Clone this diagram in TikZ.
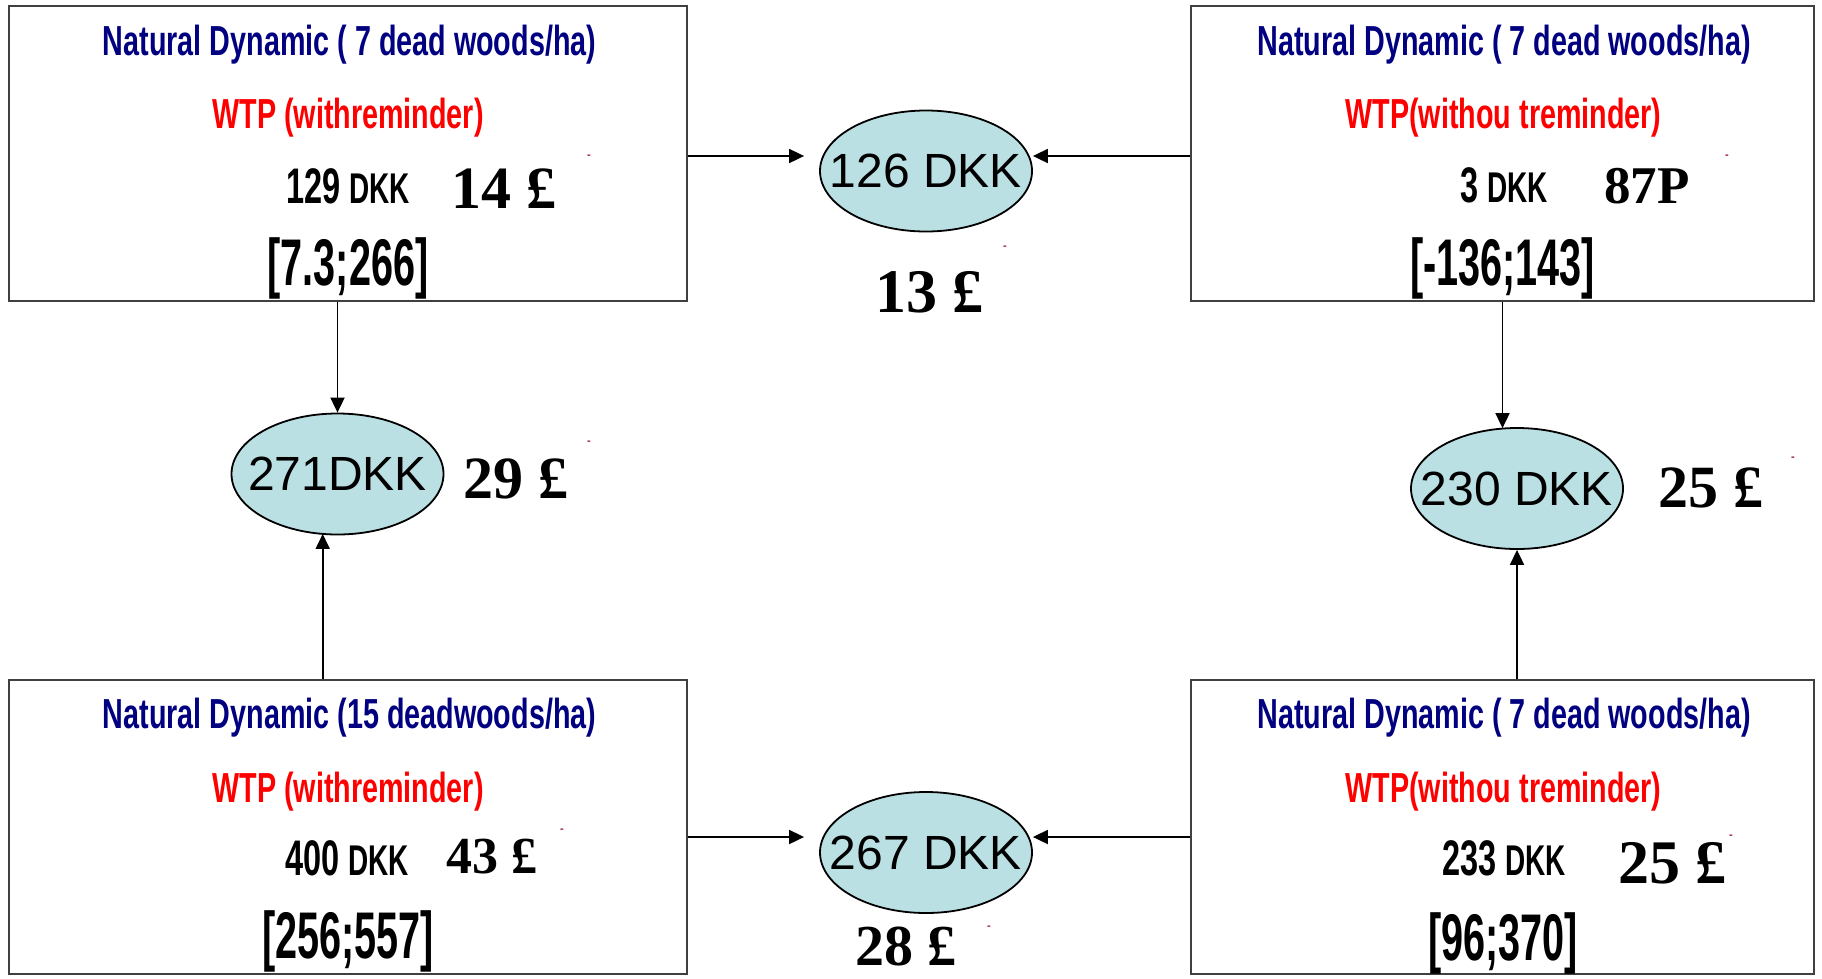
\documentclass[tikz,border=0pt]{standalone}
\usepackage{fontspec}
\setmainfont{Liberation Sans}
\newfontfamily\condfont{Liberation Sans}[FakeStretch=0.684]
\newfontfamily\amtfont{Liberation Sans}[FakeStretch=0.65]
\newfontfamily\rangefont{Liberation Sans}[FakeStretch=0.6]
\newfontfamily\gbpfont{Liberation Serif}
\usetikzlibrary{arrows.meta,shapes.geometric}
\definecolor{navy}{RGB}{0,0,128}
\definecolor{wtpred}{RGB}{255,0,0}
\definecolor{ovalfill}{RGB}{187,224,227}
\definecolor{speckcol}{RGB}{150,20,40}
\newcommand\fs[1]{\fontsize{#1}{#1}\selectfont}
\newcommand\ovaltext[1]{\makebox[0pt][c]{#1}}
\newcommand\unitdkk{{\fs{43}DKK}}
\tikzset{
  panel/.style={draw=black!75, line width=1.6pt, inner sep=0},
  ovalnode/.style={ellipse, draw=black, line width=1.8pt, fill=ovalfill,
    minimum width=212pt, minimum height=121pt, inner sep=0, font=\fs{48}},
  titletxt/.style={anchor=base, inner sep=0, text=navy, font=\condfont\bfseries\fs{42}},
  wtptxt/.style={anchor=base, inner sep=0, text=wtpred, font=\condfont\bfseries\fs{42}},
  amounttxt/.style={anchor=base west, inner sep=0, font=\amtfont\bfseries\fs{50}},
  rangetxt/.style={anchor=base, inner sep=0, font=\rangefont\bfseries\fs{66}},
  gbptxt/.style={anchor=base west, inner sep=0, font=\gbpfont\bfseries\fs{#1}},
  specktxt/.style={inner sep=0, text=speckcol, font=\bfseries\fs{11}},
  arr/.style={-{Triangle[length=15pt,width=14pt]}, line width=1.8pt},
}
\begin{document}
\begin{tikzpicture}[x=1pt,y=-1pt]
\fill[white] (0,0) rectangle (1822,978);
\useasboundingbox (0,0) rectangle (1822,978);

% four scenario panels
\node[panel, minimum width=678pt, minimum height=295pt] (tl) at (348,153.5) {};
\node[panel, minimum width=623pt, minimum height=295pt] (tr) at (1502.5,153.5) {};
\node[panel, minimum width=678pt, minimum height=294pt] (bl) at (348,827) {};
\node[panel, minimum width=623pt, minimum height=294pt] (br) at (1502.5,827) {};

% top-left panel
\node[titletxt] (tl-title) at (349.5,55) {Natural Dynamic ( 7 dead woods/ha)};
\node[wtptxt] (tl-wtp) at (348,128) {WTP (withreminder)};
\node[amounttxt] (tl-dkk) at (286,203) {129 \unitdkk};
\node[gbptxt=60] (tl-gbp) at (451,208) {14 £};
\node[rangetxt] (tl-ci) at (348,285) {[7.3;266]};
\node[specktxt] (tl-sp) at (589,157) {-};

% top-right panel
\node[titletxt] (tr-title) at (1504,55) {Natural Dynamic ( 7 dead woods/ha)};
\node[wtptxt] (tr-wtp) at (1503.5,128) {WTP(withou treminder)};
\node[amounttxt] (tr-dkk) at (1460,202) {3 \unitdkk};
\node[gbptxt=53] (tr-gbp) at (1604,203) {87P};
\node[rangetxt] (tr-ci) at (1502.5,285) {[-136;143]};
\node[specktxt] (tr-sp) at (1727,157) {-};

% bottom-left panel
\node[titletxt] (bl-title) at (349.5,728) {Natural Dynamic (15 deadwoods/ha)};
\node[wtptxt] (bl-wtp) at (348,802) {WTP (withreminder)};
\node[amounttxt] (bl-dkk) at (285,875) {400 \unitdkk};
\node[gbptxt=52] (bl-gbp) at (446,873) {43 £};
\node[rangetxt] (bl-ci) at (348,958) {[256;557]};
\node[specktxt] (bl-sp) at (562,831) {-};

% bottom-right panel
\node[titletxt] (br-title) at (1504,728) {Natural Dynamic ( 7 dead woods/ha)};
\node[wtptxt] (br-wtp) at (1503.5,802) {WTP(withou treminder)};
\node[amounttxt] (br-dkk) at (1442,875) {233 \unitdkk};
\node[gbptxt=62] (br-gbp) at (1618,883) {25 £};
\node[rangetxt] (br-ci) at (1503,960) {[96;370]};
\node[specktxt] (br-sp) at (1731,837) {-};

% combined estimates
\node[ovalnode] (e126) at (926,171) {\ovaltext{126 DKK}};
\node[ovalnode] (e271) at (337.5,474) {\ovaltext{271DKK}};
\node[ovalnode] (e230) at (1517,488.5) {\ovaltext{230 DKK}};
\node[ovalnode] (e267) at (926,852.5) {\ovaltext{267 DKK}};

\node[gbptxt=62] (g13) at (875,312) {13 £};
\node[specktxt] (g13-sp) at (1005,248) {-};
\node[gbptxt=60] (g29) at (463,498) {29 £};
\node[specktxt] (g29-sp) at (589,443) {-};
\node[gbptxt=60] (g25) at (1658,507) {25 £};
\node[specktxt] (g25-sp) at (1793,459) {-};
\node[gbptxt=58] (g28) at (855,965) {28 £};
\node[specktxt] (g28-sp) at (989,928) {-};

% connectors
\draw[arr] ([yshift=-2.5pt]tl.east) -- ([yshift=-2.5pt,xshift=-15pt]tl.east -| e126.west);
\draw[arr] ([yshift=-2.5pt]tr.west) -- ([yshift=-2.5pt]tr.west -| e126.east);
\draw[arr] (e271.north |- tl.south) -- (e271.north);
\draw[arr] ([xshift=-25.3pt]bl.north) -- ([xshift=-25.3pt,yshift=1.5pt]bl.north |- e271.south);
\draw[arr] (tr.south) -- ([yshift=-1pt]tr.south |- e230.north);
\draw[arr] (br.north -| e230.south) -- (e230.south);
\draw[arr] ([yshift=-10pt]bl.east) -- ([yshift=-10pt,xshift=-15pt]bl.east -| e267.west);
\draw[arr] ([yshift=-10pt]br.west) -- ([yshift=-10pt]br.west -| e267.east);
\end{tikzpicture}
\end{document}
